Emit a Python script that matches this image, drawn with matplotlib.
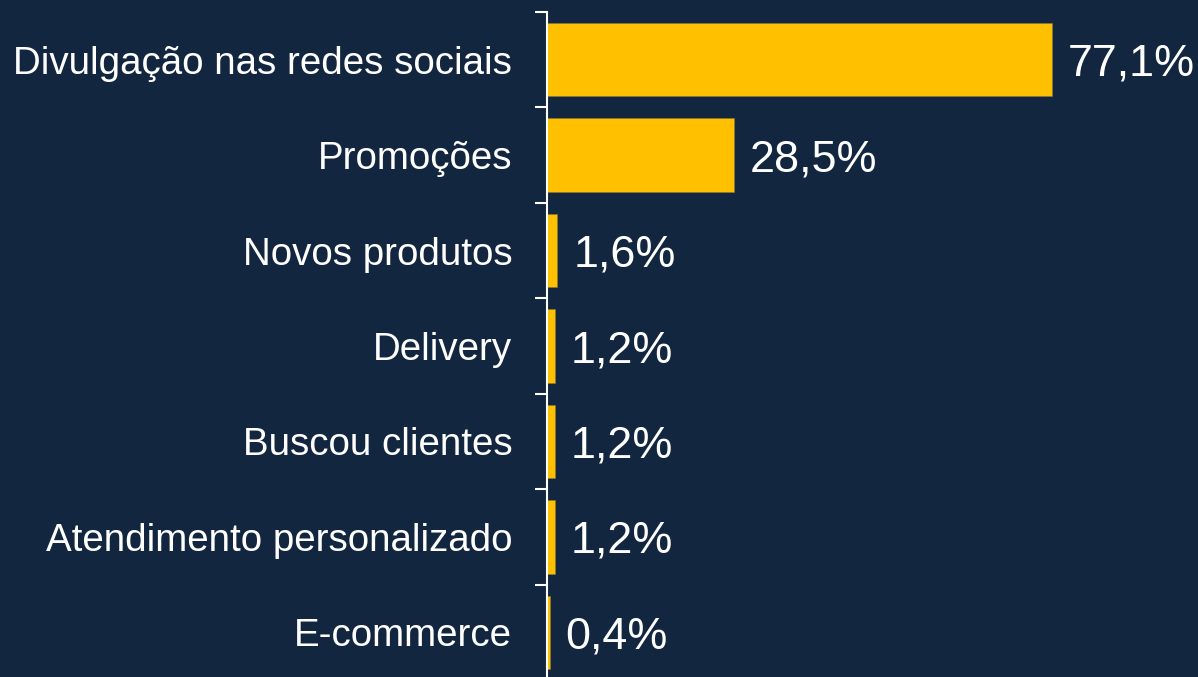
import matplotlib
matplotlib.use("Agg")
import matplotlib.pyplot as plt
import numpy as np

categories = ["Divulgação nas redes sociais", "Promoções", "Novos produtos", "Delivery",
              "Buscou clientes", "Atendimento personalizado", "E-commerce"]
values = [77.1, 28.5, 1.6, 1.2, 1.2, 1.2, 0.4]
value_labels = ["77,1%", "28,5%", "1,6%", "1,2%", "1,2%", "1,2%", "0,4%"]

BG = "#12263F"
BAR = "#FFC000"

plt.rcParams['font.family'] = ['Liberation Sans', 'DejaVu Sans']

fig = plt.figure(figsize=(11.98, 6.77), dpi=100, facecolor=BG)
ax = fig.add_axes([547/1198, (677-680)/677, (1198-547)/1198, 668/677])
ax.set_facecolor(BG)

y = np.arange(len(categories))
ax.barh(y, values, height=0.77, color=BAR, edgecolor="#8a7a3a", linewidth=0.4)
ax.set_ylim(len(categories) - 0.5, -0.5)
ax.set_xlim(0, 99.4)

for yi, v, lab in zip(y, values, value_labels):
    ax.annotate(lab, (v, yi), xytext=(11.5, 0), textcoords="offset points",
                va="center_baseline", ha="left", color="white", fontsize=32.3)

ax.set_yticks(y)
ax.set_yticklabels(categories, fontsize=27.7, color="white")
ax.tick_params(axis="y", which="major", length=0, pad=25)
ax.set_yticks(np.arange(-0.5, len(categories) + 0.5, 1), minor=True)
ax.tick_params(axis="y", which="minor", length=8.6, width=1.5, color="white", direction="out")
ax.set_xticks([])

for s in ["top", "right", "bottom"]:
    ax.spines[s].set_visible(False)
ax.spines["left"].set_color("white")
ax.spines["left"].set_linewidth(1.5)

fig.savefig("out.png", dpi=100, facecolor=BG)
